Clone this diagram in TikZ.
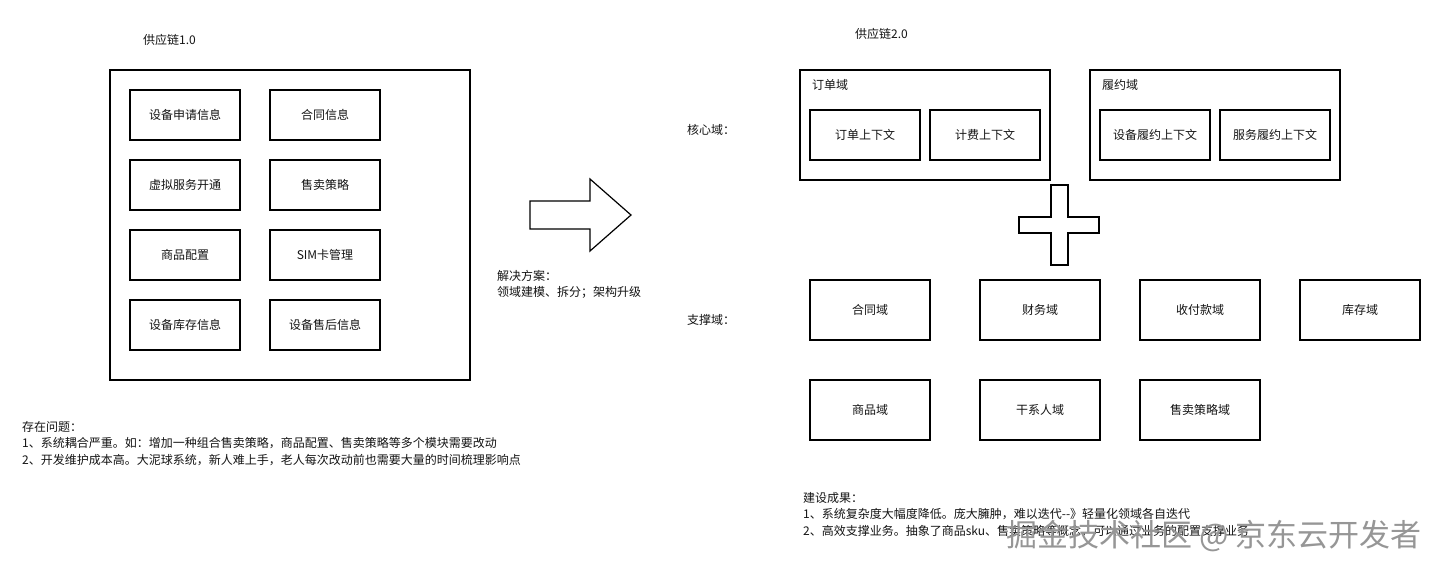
\documentclass[tikz,border=0pt]{standalone}
\usepackage{fontspec}
\setmainfont{Noto Sans CJK SC}
\usetikzlibrary{positioning}
\definecolor{ink}{RGB}{0,0,0}
\definecolor{txt}{RGB}{20,20,20}
\definecolor{wmark}{RGB}{150,150,150}

\begin{document}
\begin{tikzpicture}[
  x=1pt, y=-1pt,
  font=\fontsize{12}{16}\selectfont, text=txt,
  grp/.style={draw=ink, line width=1.2pt, inner sep=0pt},
  mod/.style={draw=ink, line width=1.2pt, minimum width=110pt, minimum height=50pt, inner sep=0pt},
  dom/.style={draw=ink, line width=1.2pt, minimum width=120pt, minimum height=60pt, inner sep=0pt},
  outl/.style={draw=ink, line width=1.2pt, line join=miter},
  lbl/.style={anchor=west, inner sep=0pt},
  note/.style={anchor=north west, align=left, inner sep=0pt, font=\fontsize{12}{16.5}\selectfont},
]
\useasboundingbox[fill=white] (0,0) rectangle (1442,566);

% ---------------------------------------------------------------- supply chain 1.0
\node[lbl] (t1) at (143,40) {供应链1.0};
\node[grp, minimum width=360pt, minimum height=310pt] (sys1) at (290,225) {};

\node[mod] (apply)   at (185,115) {设备申请信息};
\node[mod] (cont)    at (325,115) {合同信息};
\node[mod] (vsvc)    at (185,185) {虚拟服务开通};
\node[mod] (sale)    at (325,185) {售卖策略};
\node[mod] (goods)   at (185,255) {商品配置};
\node[mod] (sim)     at (325,255) {SIM卡管理};
\node[mod] (stock)   at (185,325) {设备库存信息};
\node[mod] (after)   at (325,325) {设备售后信息};

\node[note] (issue) at (22,421)
  {存在问题：\\
   1、系统耦合严重。如：增加一种组合售卖策略，商品配置、售卖策略等多个模块需要改动\\
   2、开发维护成本高。大泥球系统，新人难上手，老人每次改动前也需要大量的时间梳理影响点};

% ---------------------------------------------------------------- transition
\draw[outl] (530,201) -- (590,201) -- (590,179) -- (631,215) -- (590,251)
  -- (590,229) -- (530,229) -- cycle;
\node[note] (plan) at (497,270) {解决方案：\\领域建模、拆分；架构升级};

% ---------------------------------------------------------------- supply chain 2.0
\node[lbl] (t2) at (855,34) {供应链2.0};
\node[lbl] (core) at (687,130) {核心域：};
\node[lbl] (supp) at (687,320) {支撑域：};

\node[grp, minimum width=250pt, minimum height=110pt] (order) at (925,125) {};
\node[lbl] at (812,85) {订单域};
\node[mod] (octx) at (865,135) {订单上下文};
\node[mod] (bctx) at (985,135) {计费上下文};

\node[grp, minimum width=250pt, minimum height=110pt] (fulfil) at (1215,125) {};
\node[lbl] at (1102,85) {履约域};
\node[mod] (dctx) at (1155,135) {设备履约上下文};
\node[mod] (sctx) at (1275,135) {服务履约上下文};

% plus sign
\draw[outl] (1051,185) -- (1068,185) -- (1068,217) -- (1099,217) -- (1099,233)
  -- (1068,233) -- (1068,265) -- (1051,265) -- (1051,233) -- (1019,233)
  -- (1019,217) -- (1051,217) -- cycle;

\node[dom] (hty)  at (870,310)  {合同域};
\node[dom] (fin)  at (1040,310) {财务域};
\node[dom] (pay)  at (1200,310) {收付款域};
\node[dom] (inv)  at (1360,310) {库存域};
\node[dom] (prod) at (870,410)  {商品域};
\node[dom] (stk)  at (1040,410) {干系人域};
\node[dom] (sstr) at (1200,410) {售卖策略域};

\node[note] (result) at (803,492)
  {建设成果：\\
   1、系统复杂度大幅度降低。庞大臃肿，难以迭代-{}-》轻量化领域各自迭代\\
   2、高效支撑业务。抽象了商品sku、售卖策略等概念，可以通过业务的配置支撑业务};

\node[inner sep=0pt, text=wmark, font=\fontsize{31}{31}\selectfont] (wm) at (1214,536)
  {掘金技术社区 @ 京东云开发者};
\end{tikzpicture}
\end{document}
